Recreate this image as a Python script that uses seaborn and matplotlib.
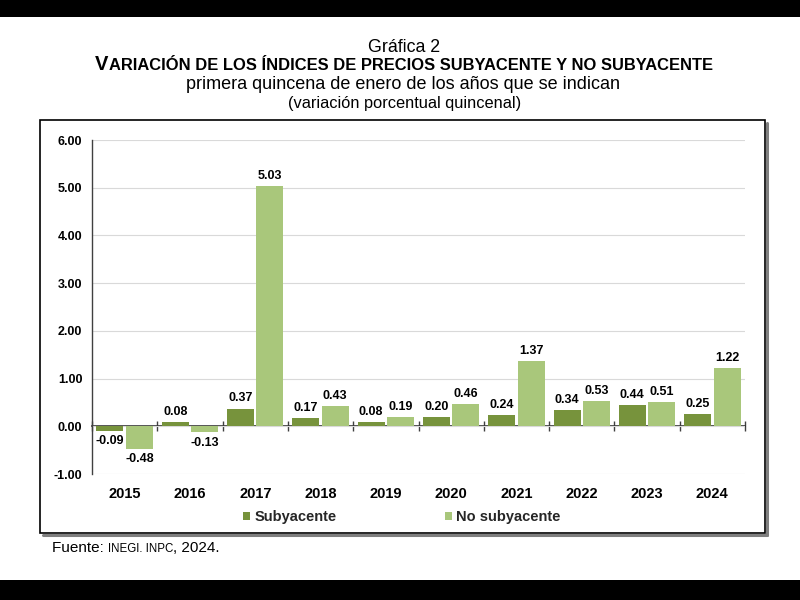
import matplotlib
matplotlib.use("Agg")
import matplotlib.pyplot as plt
from matplotlib.patches import Rectangle
from matplotlib.lines import Line2D
from matplotlib.transforms import IdentityTransform
import seaborn as sns
import pandas as pd

# ---- data ----
years = ["2015", "2016", "2017", "2018", "2019", "2020", "2021", "2022", "2023", "2024"]
subyacente = [-0.09, 0.08, 0.37, 0.17, 0.08, 0.20, 0.24, 0.34, 0.44, 0.25]
no_subyacente = [-0.48, -0.13, 5.03, 0.43, 0.19, 0.46, 1.37, 0.53, 0.51, 1.22]
series_names = ["Subyacente", "No subyacente"]
y_ticks = [-1, 0, 1, 2, 3, 4, 5, 6]

df = pd.DataFrame({
    "year": years * 2,
    "serie": [series_names[0]] * len(years) + [series_names[1]] * len(years),
    "value": subyacente + no_subyacente,
})

DARK = "#77933C"
LIGHT = "#A9C77B"

sns.set_theme(style="white")
plt.rcParams["font.family"] = ["Liberation Sans", "DejaVu Sans"]

W, H = 800, 600
fig = plt.figure(figsize=(8, 6), dpi=100)
fig.patch.set_facecolor("white")

ax = fig.add_axes([92 / W, 1 - 474 / H, (745 - 92) / W, (474 - 140) / H])
ax.set_facecolor("white")

sns.barplot(data=df, x="year", y="value", hue="serie", palette=[DARK, LIGHT],
            saturation=1, width=0.9, gap=0.08, linewidth=0, ax=ax, legend=True)

ax.set_ylim(-1, 6)
ax.set_xlim(-0.5, len(years) - 0.5)
ax.set_yticks(y_ticks)
ax.set_yticklabels([f"{v:.2f}" for v in y_ticks], fontsize=9, fontweight="bold")
ax.set_xlabel("")
ax.set_ylabel("")
ax.yaxis.grid(True, color="#D9D9D9", linewidth=0.8)
ax.set_axisbelow(True)
for s in ["top", "right", "bottom"]:
    ax.spines[s].set_visible(False)
ax.spines["left"].set_color("#404040")
ax.spines["left"].set_linewidth(1.0)
ax.tick_params(axis="y", direction="out", length=4, width=1, color="#404040", pad=3, labelcolor="black")
ax.tick_params(axis="x", length=0, pad=9)
for lab in ax.get_xticklabels():
    lab.set_fontsize(10.5)
    lab.set_fontweight("bold")
    lab.set_color("black")

# zero axis with category boundary ticks
sec = ax.secondary_xaxis(1 / 7)
sec.set_xticks([i - 0.5 for i in range(len(years) + 1)])
sec.set_xticklabels([])
sec.tick_params(direction="inout", length=7, width=1, color="#404040")
sec.spines["bottom"].set_color("#303030")
sec.spines["bottom"].set_linewidth(1.2)

for cont in ax.containers:
    ax.bar_label(cont, fmt="%.2f", padding=3, fontsize=9, fontweight="bold", color="black")

handles, labels = ax.get_legend_handles_labels()
ax.legend(handles, labels, loc="center", bbox_to_anchor=(402 / W, 1 - 517 / H),
          bbox_transform=fig.transFigure, ncol=2, frameon=False,
          prop={"size": 10.5, "weight": "bold"}, handlelength=0.5, handleheight=0.5,
          handletextpad=0.3, columnspacing=7.4, borderpad=0)

# frame box with shadow
fig.add_artist(Line2D([(767) / W, 767 / W], [1 - 123 / H, 1 - 535 / H], transform=fig.transFigure,
                      color="#7F7F7F", linewidth=2.2))
fig.add_artist(Line2D([43 / W, 767 / W], [1 - 535 / H, 1 - 535 / H], transform=fig.transFigure,
                      color="#7F7F7F", linewidth=2.2))
fig.add_artist(Rectangle((40 / W, 1 - 533 / H), 725 / W, 413 / H, transform=fig.transFigure,
                         facecolor="none", edgecolor="black", linewidth=1.2))

# black bands
fig.add_artist(Rectangle((0, 1 - 17 / H), 1, 17 / H, transform=fig.transFigure,
                         facecolor="black", edgecolor="none"))
fig.add_artist(Rectangle((0, 0), 1, 20 / H, transform=fig.transFigure,
                         facecolor="black", edgecolor="none"))

fig.canvas.draw()
renderer = fig.canvas.get_renderer()


def runs(pieces, y_px, x_px=None, center_px=None):
    texts = []
    widths = []
    for s, size, weight in pieces:
        t = fig.text(0, 0, s, fontsize=size, fontweight=weight, ha="left", va="baseline",
                     transform=IdentityTransform(), color="black")
        texts.append(t)
        widths.append(t.get_window_extent(renderer).width)
    total = sum(widths)
    x = x_px if x_px is not None else center_px - total / 2
    for t, w in zip(texts, widths):
        t.set_position((x, H - y_px))
        x += w


runs([("Gráfica 2", 12.8, "normal")], 52, center_px=404)
runs([("V", 14.5, "bold"), ("ARIACIÓN DE LOS ÍNDICES DE PRECIOS SUBYACENTE Y NO SUBYACENTE", 11.9, "bold")],
     70, center_px=404)
runs([("primera quincena de enero de los años que se indican", 13, "normal")], 89, center_px=403)
runs([("(variación porcentual quincenal)", 11.8, "normal")], 108, center_px=405)
runs([("Fuente: ", 11, "normal"), ("INEGI. INPC", 8.3, "normal"), (", 2024.", 11, "normal")],
     552, x_px=52)

fig.savefig("out.png", dpi=100)
